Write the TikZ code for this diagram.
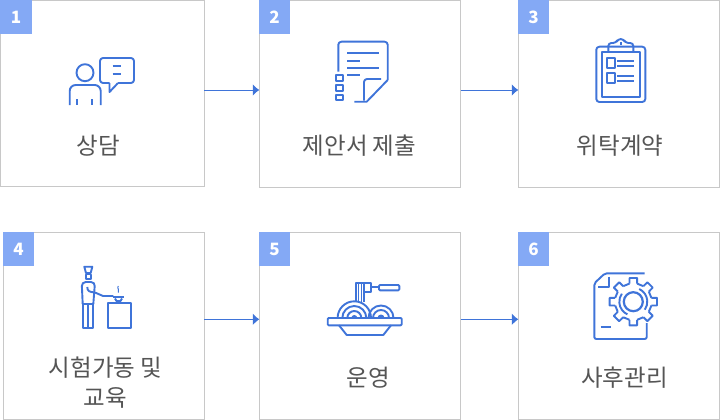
\documentclass[tikz,border=0pt]{standalone}
\usepackage{fontspec}
\setmainfont{Noto Sans CJK KR}
\usetikzlibrary{arrows.meta}
\definecolor{iconblue}{HTML}{3F74D9}
\definecolor{badgeblue}{HTML}{84A9F5}
\definecolor{boxgray}{HTML}{C8C8C8}
\definecolor{labelgray}{HTML}{555555}
\tikzset{
	stepbox/.style={draw=boxgray,line width=1,fill=white,anchor=north west,minimum width=201,minimum height=186.6,inner sep=0,outer sep=0},
	badge/.style={fill=badgeblue,text=white,anchor=north west,minimum width=31,minimum height=34,inner sep=0,outer sep=0,font=\fontsize{17}{17}\selectfont\bfseries},
	steplabel/.style={text=labelgray,align=center,inner sep=0,font=\fontsize{23.5}{30}\selectfont},
	flow/.style={draw=iconblue,line width=1,-{Latex[length=6.5,width=12]}},
	icon/.style={draw=iconblue,line width=1.9,line join=round},
}
\begin{document}
\begin{tikzpicture}[x=1pt,y=-1pt]
	\useasboundingbox (0,0) rectangle (720,420);

	% BOXES
	\node[stepbox,minimum width=203.8,minimum height=185.8] (box1) at (0.5,0.5) {};
	\node[stepbox,minimum width=201.4] (box2) at (259.3,0.7) {};
	\node[stepbox] (box3) at (518.3,0.7) {};
	\node[stepbox] (box4) at (3.3,232.7) {};
	\node[stepbox,minimum width=201.4] (box5) at (259.3,232.7) {};
	\node[stepbox] (box6) at (518.3,232.7) {};

	% ARROWS
	\draw[flow] ([yshift=3.4]box1.east) -- ([yshift=4]box2.west);
	\draw[flow] ([yshift=4]box2.east) -- ([yshift=4]box3.west);
	\draw[flow] ([yshift=6.7]box4.east) -- ([yshift=6.7]box5.west);
	\draw[flow] ([yshift=6.7]box5.east) -- ([yshift=6.7]box6.west);

	% BADGES
	\node[badge,minimum width=32] (num1) at (0,0) {1};
	\node[badge] (num2) at (259,0) {2};
	\node[badge] (num3) at (518,0) {3};
	\node[badge] (num4) at (3,232) {4};
	\node[badge] (num5) at (259,232) {5};
	\node[badge] (num6) at (518,232) {6};

	% LABELS
	\node[steplabel] (text1) at (98,145.5) {상담};
	\node[steplabel] (text2) at (359.5,145.5) {제안서 제출};
	\node[steplabel] (text3) at (620,145.5) {위탁계약};
	\node[steplabel] (text4) at (105.5,382.5) {시험가동 및\\교육};
	\node[steplabel] (text5) at (368,377.5) {운영};
	\node[steplabel] (text6) at (624.5,377.5) {사후관리};

	% ICON 1
	\draw[icon] (85,72.7) circle (8.5);
	\draw[icon,rounded corners=6] (69.7,105) -- (69.7,85) -- (100.7,85) -- (100.7,105);
	\draw[icon] (77.3,99) -- (77.3,105);
	\draw[icon] (92.3,99) -- (92.3,105);
	\draw[icon,rounded corners=3] (118,83) -- (134,83) -- (134,58) -- (100,58) -- (100,83) -- (109.5,83);
	\draw[icon] (109.5,83) -- (109.5,92) -- (118,83);
	\draw[icon] (112.7,66) -- (121.3,66);
	\draw[icon] (112.7,73.7) -- (121.3,73.7);

	% ICON 2
	\draw[icon,rounded corners=3] (338.3,71.7) -- (338.3,41.7) -- (387.7,41.7) -- (387.7,80);
	\draw[icon] (387.7,80) -- (366.7,101.7) -- (354.3,101.7);
	\draw[icon,rounded corners=3] (381,79) -- (364,79) -- (364,100.5);
	\draw[icon] (347.3,53) -- (378.7,53);
	\draw[icon] (347.3,60.7) -- (360,60.7);
	\draw[icon] (347.3,67.7) -- (378.7,67.7);
	\draw[icon] (347.3,75.3) -- (360,75.3);
	\draw[icon] (336,75) rectangle (343.3,80.7);
	\draw[icon] (336,85) rectangle (343.3,90.7);
	\draw[icon] (336,94.7) rectangle (343.3,100);

	% ICON 3
	\draw[icon,rounded corners=3] (596.3,46.7) rectangle (645.3,102);
	\draw[icon] (601.7,51.7) rectangle (640,97);
	\draw[icon,rounded corners=3] (608.3,51.7) -- (608.3,43) -- (616,43) -- (618,39) -- (623.5,39) -- (625.5,43) -- (633.3,43) -- (633.3,51.7);
	\draw[icon] (620.7,42) -- (620.7,45);
	\draw[icon] (607,58.3) rectangle (615.3,68.3);
	\draw[icon] (607,73.3) rectangle (615.3,83.3);
	\draw[icon] (617.3,61) -- (634,61);
	\draw[icon] (617.3,66) -- (634,66);
	\draw[icon] (617.3,76) -- (634,76);
	\draw[icon] (617.3,80.7) -- (634,80.7);

	% ICON 4
	\draw[icon] (84.3,266.7) -- (92.3,266.7) -- (90.7,273) -- (86,273) -- cycle;
	\draw[icon] (86,274.5) rectangle (90.7,279);
	\draw[icon,rounded corners=4] (82.7,304) -- (81.7,282) -- (95,282) -- (93.3,304);
	\draw[icon] (82.7,304) -- (82.7,328.3) -- (93.3,328.3) -- (93.3,304) -- cycle;
	\draw[icon] (88,304) -- (88,328.3);
	\draw[icon] (87.3,287) .. controls (87.3,291) and (89,292) .. (95,292.5) -- (103,296) -- (113.3,296);
	\draw[icon] (113,296.7) -- (124,296.7);
	\draw[icon] (115,298.5) -- (116.5,301) -- (120.5,301) -- (122,298.5);
	\draw[icon] (107.7,303.3) rectangle (130.7,328.3);
	\draw[icon,line width=1] (118.3,286) .. controls (116.5,288) and (120,290) .. (118.3,292.7);

	% ICON 5
	\draw[icon,rounded corners=1] (327.7,318) rectangle (401.7,325.3);
	\draw[icon] (339,325.3) -- (346.7,335) -- (383.3,335) -- (391,325.3);
	\draw[icon] (337.6,318) arc (180:360:16.7);
	\draw[icon] (342.3,318) arc (180:360:12);
	\draw[icon] (347.3,318) arc (180:360:7);
	\fill[iconblue] (351.3,318) arc (180:360:3);
	\draw[icon] (368.5,318) arc (180:360:12.5);
	\draw[icon] (373,318) arc (180:360:8);
	\fill[iconblue] (377.5,318) arc (180:360:3.5);
	\draw[icon] (356,301.7) -- (356,282.7) -- (370.7,282.7) -- (370.7,291.7) -- (363.7,291.7);
	\draw[icon,line width=1] (358.3,282.7) -- (358.3,301.7);
	\draw[icon,line width=1] (361,282.7) -- (361,301.7);
	\draw[icon] (363.7,282.7) -- (363.7,301.7);
	\draw[icon] (370.7,287.3) -- (379,287.3);
	\draw[icon,rounded corners=1] (379,285) rectangle (399.3,290.3);

	% ICON 6
	\draw[icon,rounded corners=2] (644.7,273.3) -- (605,273.3) -- (594.3,283.3) -- (594.3,339) -- (646.7,339) -- (646.7,323);
	\draw[icon] (609.3,276.7) -- (609.3,287.3) -- (597.7,287.3);
	\draw[icon] (600.7,327.3) -- (611,327.3);
	\begin{scope}[shift={(633.3,301.7)}]
		\foreach \a in {0,45,...,315} {
			\draw[icon] (\a-12:18.5) -- (\a-9:24) -- (\a+9:24) -- (\a+12:18.5);
			\draw[icon] (\a+12:18.5) -- (\a+33:18.5);
		}
		\draw[icon,line width=2.2] (0,0) circle (9.5);
		\draw[icon] (-65:14) arc (-65:35:14);
		\draw[icon] (115:14) arc (115:215:14);
	\end{scope}
\end{tikzpicture}
\end{document}
